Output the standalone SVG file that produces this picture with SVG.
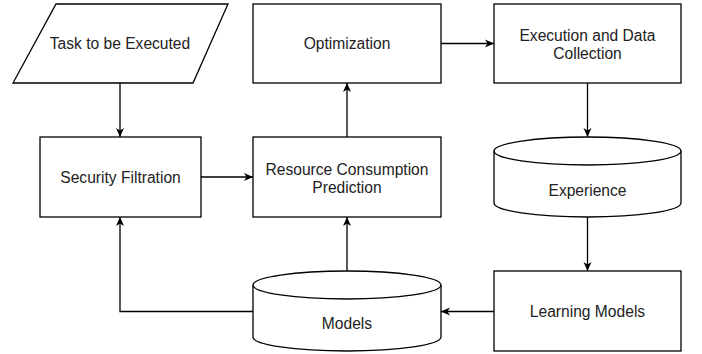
<svg xmlns="http://www.w3.org/2000/svg" width="702" height="354" viewBox="0 0 702 354">
<style>
.shape{fill:#fff;stroke:#000;stroke-width:1.3}
.lbl{font-family:"Liberation Sans",Arial,Helvetica,sans-serif;font-size:15.6px;fill:#222;text-anchor:middle}
.conn{fill:none;stroke:#000;stroke-width:1.3}
</style>
<defs>
<marker id="arr" markerUnits="userSpaceOnUse" markerWidth="10" markerHeight="10" refX="9" refY="5" orient="auto">
<path d="M0,1 L9,5 L0,9 L2.5,5 Z" fill="#000"/>
</marker>
</defs>
<rect width="702" height="354" fill="#fff"/>
<g id="task">
<polygon class="shape" points="56,4 228,4 193,83 13,83"/>
<text class="lbl" x="120" y="49">Task to be Executed</text>
</g>
<g id="security">
<rect class="shape" x="40" y="137" width="161" height="80"/>
<text class="lbl" x="120.5" y="183">Security Filtration</text>
</g>
<g id="rcp">
<rect class="shape" x="253" y="137" width="188" height="80"/>
<text class="lbl" x="347" y="174.5">Resource Consumption</text>
<text class="lbl" x="347" y="192.5">Prediction</text>
</g>
<g id="optimization">
<rect class="shape" x="253" y="4" width="188" height="79"/>
<text class="lbl" x="347" y="49">Optimization</text>
</g>
<g id="execution">
<rect class="shape" x="494" y="4" width="187" height="79"/>
<text class="lbl" x="587.5" y="40.5">Execution and Data</text>
<text class="lbl" x="587.5" y="58.5">Collection</text>
</g>
<g id="experience">
<path class="shape" d="M494,151 A93.5,14 0 0 1 681,151 L681,203 A93.5,14 0 0 1 494,203 Z"/>
<path class="shape" fill="none" d="M494,151 A93.5,14 0 0 0 681,151"/>
<text class="lbl" x="587.5" y="195.5">Experience</text>
</g>
<g id="learning">
<rect class="shape" x="494" y="271" width="187" height="80"/>
<text class="lbl" x="587.5" y="317">Learning Models</text>
</g>
<g id="models">
<path class="shape" d="M253,285 A94,14 0 0 1 441,285 L441,337 A94,14 0 0 1 253,337 Z"/>
<path class="shape" fill="none" d="M253,285 A94,14 0 0 0 441,285"/>
<text class="lbl" x="347" y="328.5">Models</text>
</g>
<g id="connectors">
<path class="conn" d="M120,83 L120,137" marker-end="url(#arr)"/>
<path class="conn" d="M201,177 L253,177" marker-end="url(#arr)"/>
<path class="conn" d="M347,137 L347,83" marker-end="url(#arr)"/>
<path class="conn" d="M441,43.5 L494,43.5" marker-end="url(#arr)"/>
<path class="conn" d="M587.5,83 L587.5,137" marker-end="url(#arr)"/>
<path class="conn" d="M587.5,217 L587.5,271" marker-end="url(#arr)"/>
<path class="conn" d="M494,311.5 L441,311.5" marker-end="url(#arr)"/>
<path class="conn" d="M347,271 L347,217" marker-end="url(#arr)"/>
<path class="conn" d="M253,311.5 L120,311.5 L120,217" marker-end="url(#arr)"/>
</g>
</svg>
